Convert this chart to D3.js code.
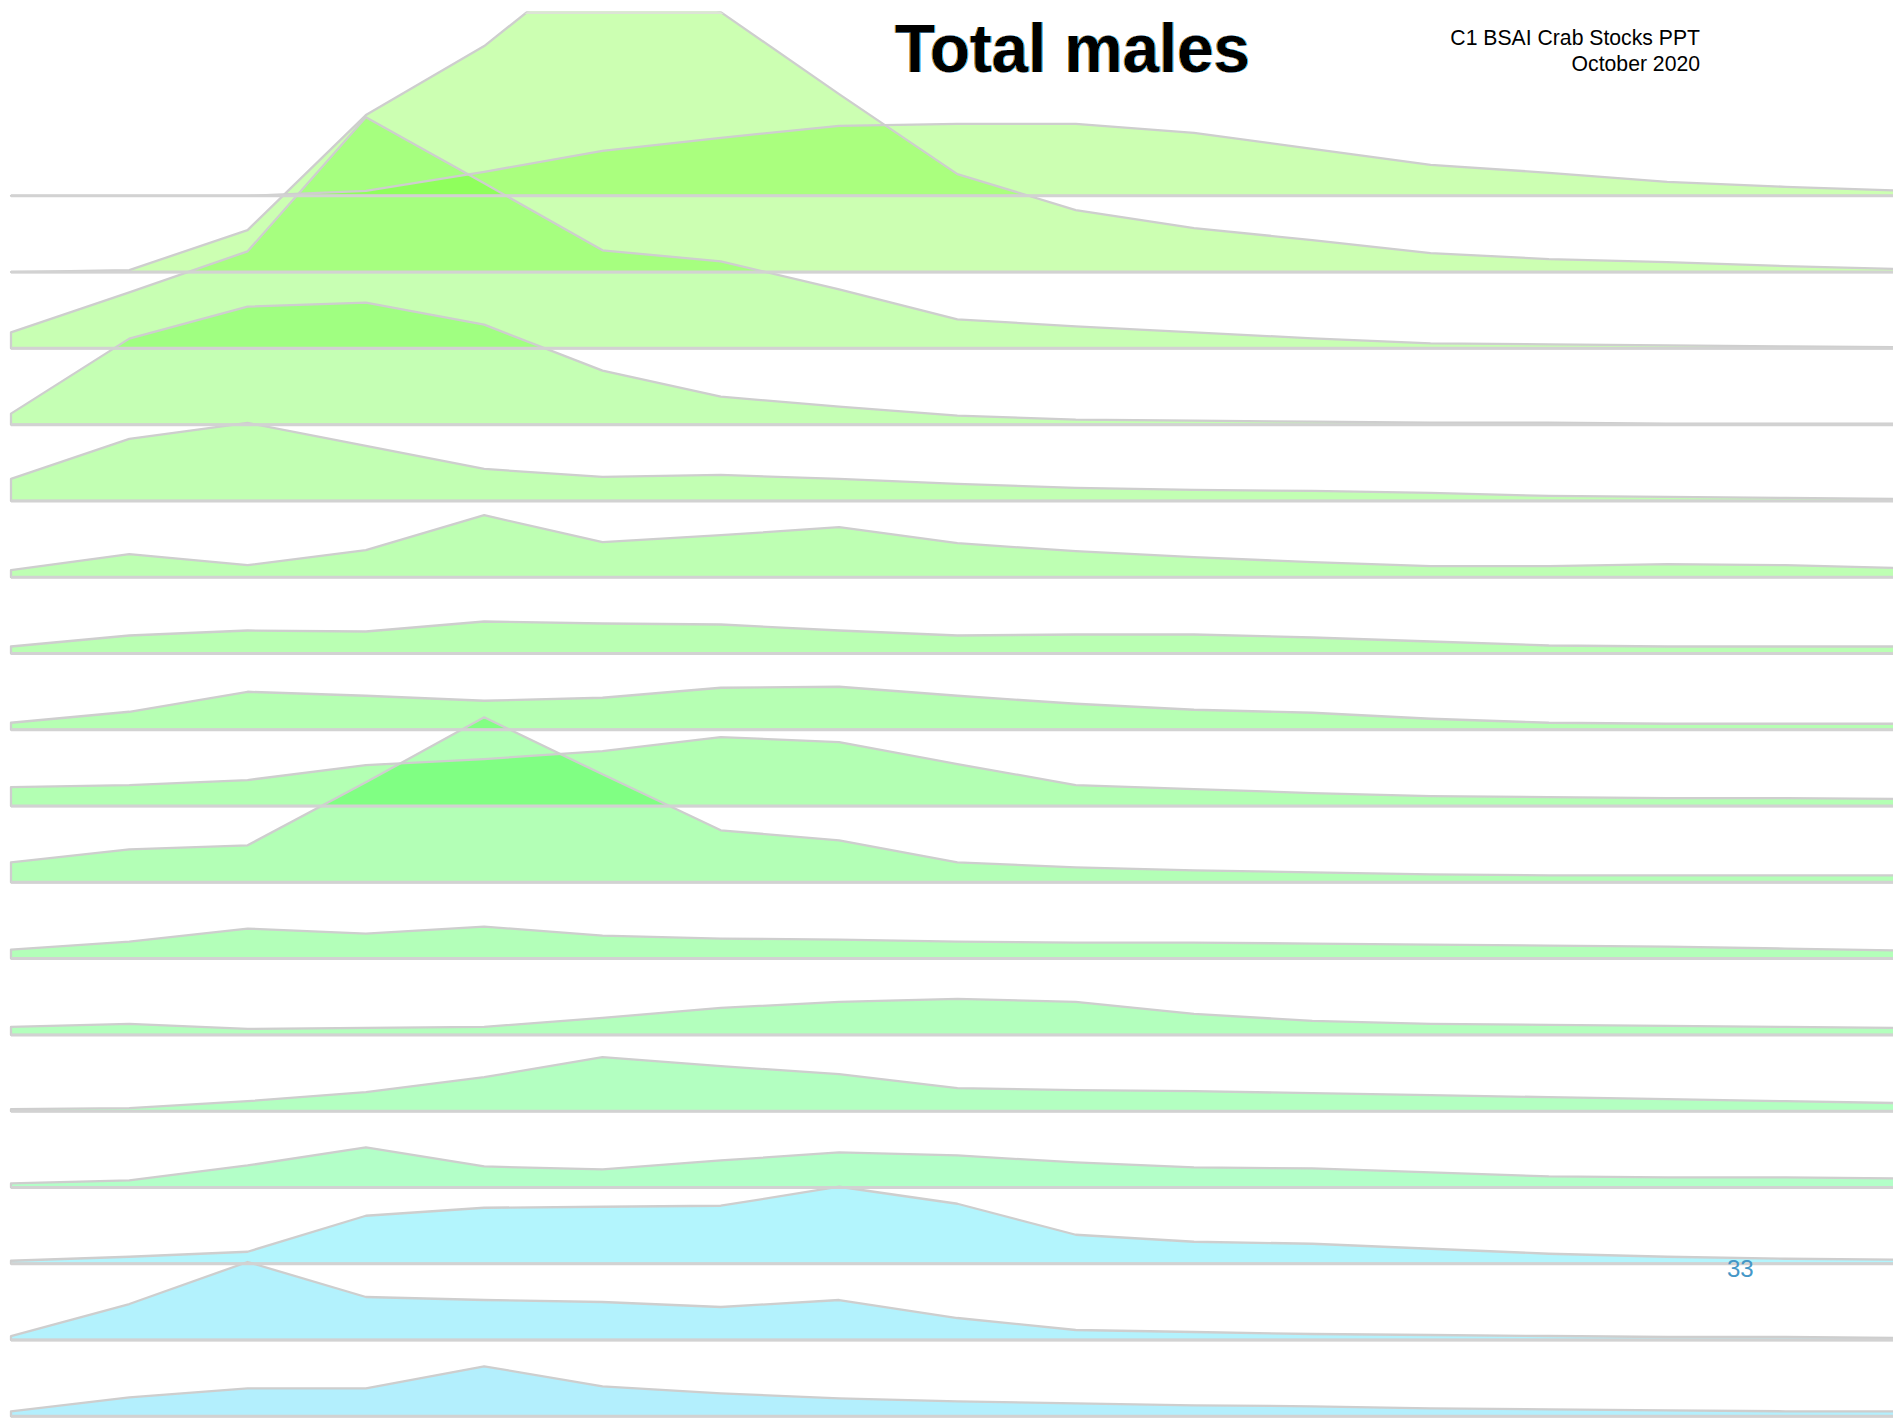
<!DOCTYPE html>
<html>
<head>
<meta charset="utf-8">
<script src="https://cdn.jsdelivr.net/npm/d3@7"></script>
<style>
  html, body { margin: 0; padding: 0; background: #fff; }
  svg { display: block; }
</style>
</head>
<body>
<svg id="chart" width="1893" height="1419"></svg>
<script>
// Size classes along the horizontal axis (one ridge vertex per class)
const sizeClasses = [0, 1, 2, 3, 4, 5, 6, 7, 8, 9, 10, 11, 12, 13, 14, 15, 16];

// Relative abundance of total males per size class, one ridge per survey, top to bottom
const series01 = [0, 0, 0, 5, 24, 45, 58, 70, 72, 72, 63, 47, 31, 23, 14, 9, 5];
const series02 = [0, 2, 42, 157, 226, 320, 260, 178, 98, 62, 44, 32, 19, 13, 10, 6, 3];
const series03 = [16, 56, 97, 231, 165, 98, 87, 59, 29, 22, 16, 10, 5, 4, 3, 2, 1];
const series04 = [11, 86, 118, 122, 100, 54, 28, 18, 9, 5, 4, 3, 2, 2, 1, 1, 1];
const series05 = [22, 62, 78, 55, 32, 24, 26, 22, 17, 13, 11, 10, 8, 5, 4, 3, 2];
const series06 = [7, 23, 12, 27, 62, 35, 42, 50, 34, 26, 20, 15, 11, 11, 13, 12, 9];
const series07 = [7, 18, 23, 22, 32, 30, 29, 23, 18, 19, 19, 16, 12, 8, 7, 7, 7];
const series08 = [7, 18, 38, 34, 29, 32, 42, 43, 34, 26, 20, 17, 11, 7, 6, 6, 6];
const series09 = [19, 21, 26, 41, 47, 55, 69, 64, 42, 21, 17, 13, 10, 9, 8, 8, 7];
const series10 = [20, 33, 37, 100, 165, 108, 52, 42, 20, 15, 12, 10, 8, 7, 7, 7, 7];
const series11 = [9, 17, 30, 25, 32, 23, 20, 19, 17, 16, 16, 15, 14, 13, 12, 10, 8];
const series12 = [8, 11, 6, 7, 8, 17, 27, 33, 36, 33, 21, 14, 11, 10, 9, 8, 7];
const series13 = [2, 3, 10, 19, 34, 54, 45, 37, 23, 21, 20, 18, 16, 14, 12, 10, 8];
const series14 = [4, 7, 22, 40, 21, 18, 27, 35, 32, 25, 20, 19, 15, 11, 10, 10, 9];
const series15 = [3, 7, 12, 48, 56, 57, 58, 77, 60, 29, 22, 20, 15, 10, 7, 5, 4];
const series16 = [4, 36, 78, 43, 40, 38, 33, 40, 22, 10, 8, 6, 5, 4, 3, 3, 2];
const series17 = [5, 19, 28, 28, 50, 30, 23, 18, 15, 13, 11, 10, 8, 7, 6, 5, 5];

const ridges = [series01, series02, series03, series04, series05, series06, series07,
  series08, series09, series10, series11, series12, series13, series14, series15,
  series16, series17];

// Ridge tints as they appear on white (each fill is translucent)
const tints = ["#ccffb2", "#ccffb2", "#c8ffb3", "#c5ffb4", "#c2ffb3", "#beffb3", "#baffb3",
  "#b6ffb3", "#b3ffb3", "#b3ffb6", "#b3ffb9", "#b3ffbd", "#b3ffc1", "#b3ffc8",
  "#b3f5fd", "#b3f2fd", "#b3effd"];

const W = 1893, H = 1419;
const fillAlpha = 0.33;
const panelTop = 11.2;

const svg = d3.select("#chart");

const x = d3.scalePoint().domain(sizeClasses).range([11, 1903.8]);
const rowIds = d3.range(ridges.length);
const base = d3.scalePoint().domain(rowIds).range([195.8, 1416.3]);
const h = d3.scaleLinear().domain([0, 100]).range([0, 100]);

// saturated base colour that gives the tint when laid on white at fillAlpha
function baseColor(tint) {
  const t = d3.rgb(tint);
  const f = v => Math.max(0, Math.min(255, Math.round(255 - (255 - v) / fillAlpha)));
  return d3.rgb(f(t.r), f(t.g), f(t.b)).formatHex();
}

const areaFor = row => d3.area()
  .x((d, i) => x(sizeClasses[i]))
  .y0(base(row))
  .y1(d => base(row) - h(d));

const defs = svg.append("defs");
defs.append("clipPath").attr("id", "panel")
  .append("rect").attr("x", 0).attr("y", panelTop).attr("width", W).attr("height", H - panelTop);

ridges.forEach((vals, row) => {
  defs.append("clipPath").attr("id", "ridge-" + row)
    .append("path").attr("d", areaFor(row)(vals));
});

// chromatic fringe on the heading
const fr = defs.append("filter").attr("id", "fringe")
  .attr("x", "-5%").attr("y", "-10%").attr("width", "110%").attr("height", "120%");
fr.append("feOffset").attr("in", "SourceAlpha").attr("dx", -1.3).attr("dy", 0).attr("result", "l");
fr.append("feFlood").attr("flood-color", "#d38b1c").attr("result", "oc");
fr.append("feComposite").attr("in", "oc").attr("in2", "l").attr("operator", "in").attr("result", "orange");
fr.append("feOffset").attr("in", "SourceAlpha").attr("dx", 1.3).attr("dy", 0).attr("result", "r");
fr.append("feFlood").attr("flood-color", "#30b8ff").attr("result", "bc");
fr.append("feComposite").attr("in", "bc").attr("in2", "r").attr("operator", "in").attr("result", "blue");
const fm = fr.append("feMerge");
fm.append("feMergeNode").attr("in", "orange");
fm.append("feMergeNode").attr("in", "blue");
fm.append("feMergeNode").attr("in", "SourceGraphic");

const panel = svg.append("g").attr("clip-path", "url(#panel)");

// translucent ridge fills
panel.append("g").selectAll("path")
  .data(ridges)
  .join("path")
  .attr("d", (vals, row) => areaFor(row)(vals))
  .attr("fill", (vals, row) => baseColor(tints[row]))
  .attr("fill-opacity", fillAlpha)
  .attr("stroke", "none");

// ridge outlines
panel.append("g").selectAll("path")
  .data(ridges)
  .join("path")
  .attr("d", (vals, row) => areaFor(row)(vals))
  .attr("fill", "none")
  .attr("stroke", "#cecece")
  .attr("stroke-width", 2.3)
  .attr("stroke-linejoin", "round");

// baselines
panel.append("g").selectAll("line")
  .data(rowIds)
  .join("line")
  .attr("x1", x(sizeClasses[0]))
  .attr("x2", W)
  .attr("y1", d => base(d))
  .attr("y2", d => base(d))
  .attr("stroke", "#d2d2d2")
  .attr("stroke-width", 3);

// edge of the panel where a ridge runs past the top
svg.append("g").selectAll("line")
  .data(rowIds)
  .join("line")
  .attr("clip-path", d => "url(#ridge-" + d + ")")
  .attr("x1", 0).attr("x2", W)
  .attr("y1", panelTop + 1.4).attr("y2", panelTop + 1.4)
  .attr("stroke", "#dde3d6")
  .attr("stroke-width", 2.6);

// heading
svg.append("text")
  .attr("x", 895).attr("y", 71.5)
  .attr("font-family", "'Liberation Sans', Arial, sans-serif")
  .attr("font-weight", "bold")
  .attr("font-size", 68)
  .attr("textLength", 355)
  .attr("lengthAdjust", "spacingAndGlyphs")
  .attr("fill", "#000")
  .attr("filter", "url(#fringe)")
  .text("Total males");

const note = svg.append("g")
  .attr("font-family", "'Liberation Sans', Arial, sans-serif")
  .attr("font-size", 21.2)
  .attr("fill", "#000")
  .attr("text-anchor", "end");
note.append("text").attr("x", 1700).attr("y", 45).text("C1 BSAI Crab Stocks PPT");
note.append("text").attr("x", 1700).attr("y", 71).text("October 2020");

svg.append("text")
  .attr("x", 1727).attr("y", 1277)
  .attr("font-family", "'Liberation Sans', Arial, sans-serif")
  .attr("font-size", 24)
  .attr("fill", "#4597c7")
  .text("33");
</script>
</body>
</html>
